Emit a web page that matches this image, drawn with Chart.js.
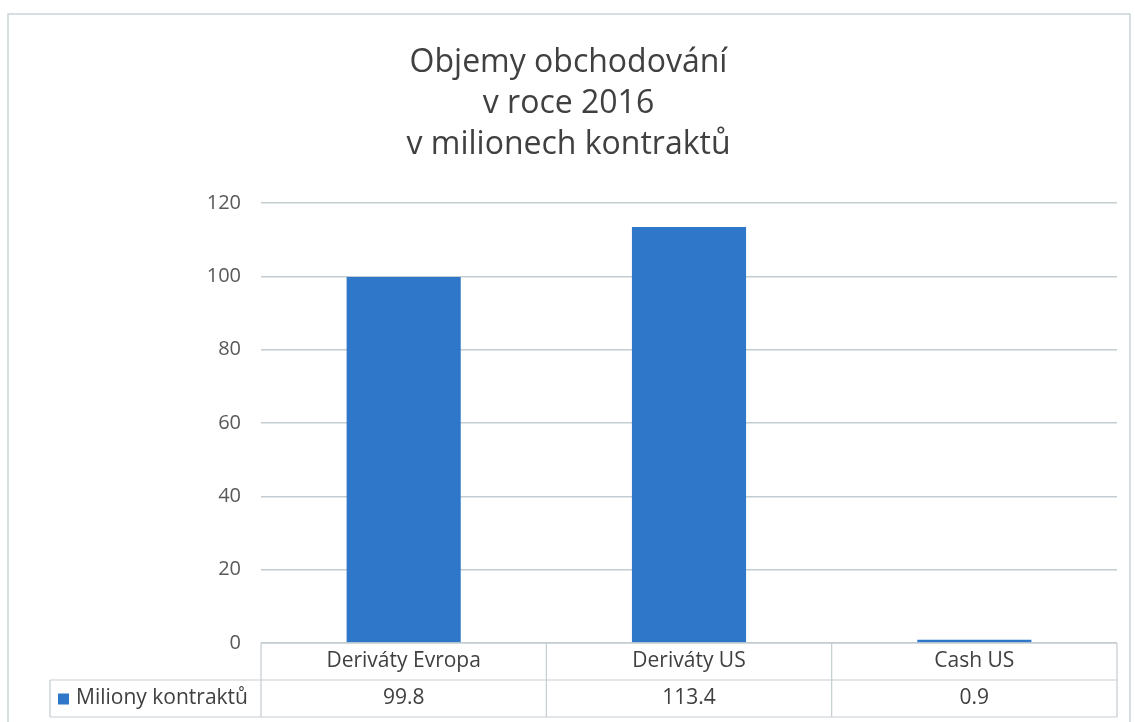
<!DOCTYPE html>
<html>
<head>
<meta charset="utf-8">
<script src="https://cdn.jsdelivr.net/npm/chart.js@4/dist/chart.umd.min.js"></script>
<style>
  html, body { margin: 0; padding: 0; background: #fff; }
  #wrap { width: 1135px; height: 722px; }
</style>
</head>
<body>
<div id="wrap"><canvas id="canvas" width="1135" height="722"></canvas></div>
<script>
const labels = ['Deriváty Evropa', 'Deriváty US', 'Cash US'];
const seriesName = 'Miliony kontraktů';
const values = [99.8, 113.4, 0.9];
const valueLabels = ['99.8', '113.4', '0.9'];
const titleLines = ['Objemy obchodování', 'v roce 2016', 'v milionech kontraktů'];

const barColor = '#2f77c9';
const lineColor = '#c3cdd1';
const textColor = '#404040';
const fontFamily = '"Open Sans", Lato, sans-serif';

// frame around the whole chart + data table under the plot
const dataTable = {
  id: 'dataTable',
  beforeDraw(chart) {
    const ctx = chart.ctx;
    ctx.save();
    ctx.strokeStyle = '#c9d4d8';
    ctx.lineWidth = 1.5;
    ctx.beginPath();
    ctx.moveTo(8, 722);
    ctx.lineTo(8, 14);
    ctx.lineTo(1130, 14);
    ctx.lineTo(1130, 722);
    ctx.stroke();
    ctx.restore();
  },
  afterDraw(chart) {
    const ctx = chart.ctx;
    const area = chart.chartArea;
    const x = chart.scales.x;
    const rowH = 37;
    const top = area.bottom;
    const catW = (area.right - area.left) / labels.length;
    ctx.save();
    ctx.strokeStyle = lineColor;
    ctx.lineWidth = 1.2;
    // horizontal lines
    ctx.beginPath();
    ctx.moveTo(area.left, top); ctx.lineTo(area.right, top);
    ctx.moveTo(50, top + rowH); ctx.lineTo(area.right, top + rowH);
    ctx.moveTo(50, top + 2 * rowH); ctx.lineTo(area.right, top + 2 * rowH);
    // vertical lines
    ctx.moveTo(50, top + rowH); ctx.lineTo(50, top + 2 * rowH);
    for (let i = 0; i <= labels.length; i++) {
      const bx = area.left + i * catW;
      ctx.moveTo(bx, top); ctx.lineTo(bx, top + 2 * rowH);
    }
    ctx.stroke();

    ctx.fillStyle = textColor;
    ctx.font = '21px ' + fontFamily;
    ctx.textAlign = 'center';
    ctx.textBaseline = 'middle';
    labels.forEach((l, i) => {
      const cx = x.getPixelForValue(i);
      ctx.fillText(l, cx, top + rowH / 2);
      ctx.fillText(valueLabels[i], cx, top + rowH * 1.5);
    });
    // legend key
    ctx.fillStyle = barColor;
    ctx.fillRect(58, top + rowH * 1.5 - 5, 11, 11);
    ctx.fillStyle = textColor;
    ctx.textAlign = 'left';
    ctx.fillText(seriesName, 76, top + rowH * 1.5);
    ctx.restore();
  }
};

new Chart(document.getElementById('canvas'), {
  type: 'bar',
  data: {
    labels: labels,
    datasets: [{
      label: seriesName,
      data: values,
      backgroundColor: barColor,
      borderWidth: 0,
      categoryPercentage: 0.8,
      barPercentage: 0.5
    }]
  },
  options: {
    responsive: false,
    animation: false,
    layout: { padding: { top: 14, left: 20, right: 18, bottom: 79 } },
    plugins: {
      legend: { display: false },
      tooltip: { enabled: false },
      title: {
        display: true,
        text: titleLines,
        color: textColor,
        font: { family: fontFamily, size: 32, weight: 'normal', lineHeight: 1.27 },
        padding: { top: 29, bottom: 38 }
      }
    },
    scales: {
      x: { display: false },
      y: {
        min: 0,
        max: 120,
        border: { display: false },
        grid: { color: lineColor, lineWidth: 1.5, drawTicks: false },
        ticks: {
          stepSize: 20,
          padding: 20,
          color: '#595959',
          font: { family: fontFamily, size: 20 }
        },
        afterFit(scale) { scale.width = 241; }
      }
    }
  },
  plugins: [dataTable]
});
</script>
</body>
</html>
